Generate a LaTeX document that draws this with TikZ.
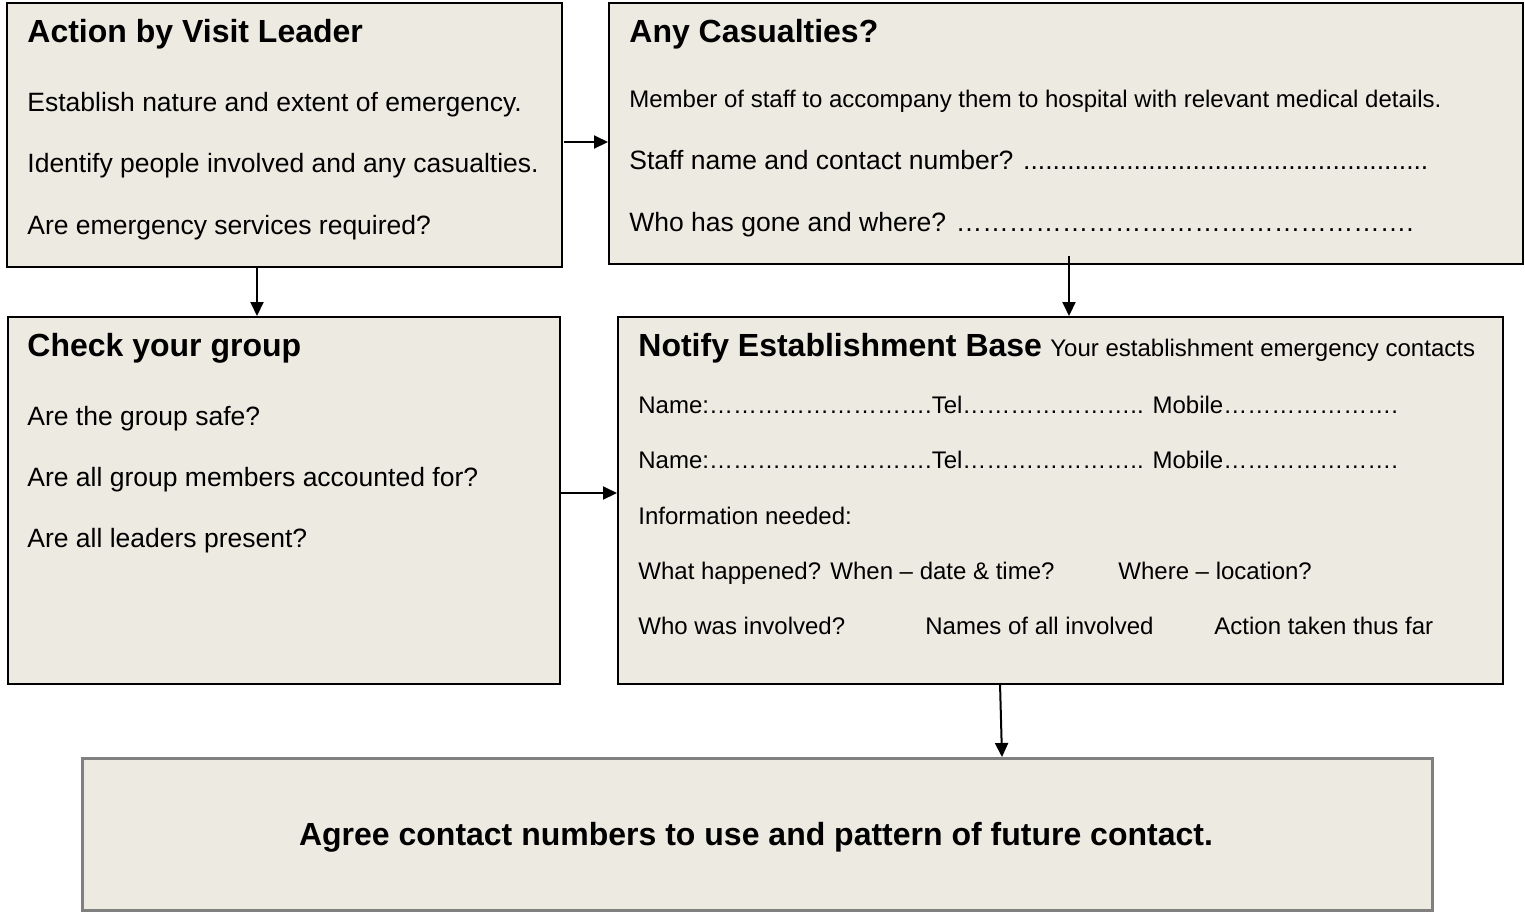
\documentclass[tikz,border=0pt]{standalone}
\usepackage{fontspec}
\setmainfont{Liberation Sans}
\usetikzlibrary{arrows.meta}
\definecolor{boxfill}{RGB}{237,234,225}
\definecolor{boxgray}{RGB}{128,128,128}
\tikzset{
  panel/.style={draw=black, line width=1pt, fill=boxfill, anchor=north west, inner sep=0pt},
  finalbox/.style={draw=boxgray, line width=1.6pt, fill=boxfill, anchor=north west, inner sep=0pt},
  ttl/.style={anchor=base west, inner sep=0pt, font=\fontsize{16}{19}\selectfont\bfseries},
  txa/.style={anchor=base west, inner sep=0pt, font=\fontsize{13.25}{16}\selectfont},
  txb/.style={anchor=base west, inner sep=0pt, font=\fontsize{12}{14}\selectfont},
  arr/.style={draw=black, line width=1pt, -{Triangle[length=7pt,width=6.5pt]}}
}
\begin{document}
\begin{tikzpicture}[x=0.5pt,y=-0.5pt]
\useasboundingbox (0,0) rectangle (1525,912);
% boxes
\node[panel, minimum width=277.5pt, minimum height=132pt] (b1) at (6,2) {};
\node[panel, minimum width=457pt, minimum height=130.5pt] (b2) at (608,2) {};
\node[panel, minimum width=276pt, minimum height=183.5pt] (b3) at (7,316) {};
\node[panel, minimum width=442.5pt, minimum height=183.5pt] (b4) at (617,316) {};
\node[finalbox, minimum width=675pt, minimum height=76pt] (b5) at (81,757) {};
% box 1
\node[ttl] (t1) at (27,42) {Action by Visit Leader};
\node[txa] (t1a) at (27,111) {Establish nature and extent of emergency.};
\node[txa] (t1b) at (27,172.5) {Identify people involved and any casualties.};
\node[txa] (t1c) at (27,234) {Are emergency services required?};
% box 2
\node[ttl] (t2) at (629,42.5) {Any Casualties?};
\node[txb] (t2a) at (629,107) {Member of staff to accompany them to hospital with relevant medical details.};
\node[txa] (t2b) at (629,169) {Staff name and contact number? \foreach \i in {1,...,55}{.}};
\node[txa] (t2c) at (629,231) {Who has gone and where? \foreach \i in {1,...,17}{…}.};
% box 3
\node[ttl] (t3) at (27,356) {Check your group};
\node[txa] (t3a) at (27,425) {Are the group safe?};
\node[txa] (t3b) at (27,486) {Are all group members accounted for?};
\node[txa] (t3c) at (27,547) {Are all leaders present?};
% box 4
\node[ttl] (t4) at (638,356) {Notify Establishment Base};
\node[txb] (t4s) at (1050,356) {Your establishment emergency contacts};
\node[txb] (t4a) at (638,413) {Name:……………………….Tel………………….. Mobile………………….};
\node[txb] (t4b) at (638,468) {Name:……………………….Tel………………….. Mobile………………….};
\node[txb] (t4c) at (638,524) {Information needed:};
\node[txb] (t4d) at (638,579) {What happened?};
\node[txb] (t4e) at (830,579) {When – date \& time?};
\node[txb] (t4f) at (1118,579) {Where – location?};
\node[txb] (t4g) at (638,634) {Who was involved?};
\node[txb] (t4h) at (925,634) {Names of all involved};
\node[txb] (t4i) at (1214,634) {Action taken thus far};
% box 5
\node[anchor=base, inner sep=0pt, font=\fontsize{16}{19}\selectfont\bfseries] (t5) at (756,845) {Agree contact numbers to use and pattern of future contact.};
% connectors
\coordinate (c1) at (564,142);
\coordinate (c2) at (257,266);
\coordinate (c3) at (1069,256);
\coordinate (c4) at (561,493);
\coordinate (c5) at (1000,683);
\coordinate (c5e) at (1002,756);
\draw[arr] (c1) -- (c1 -| b2.west);
\draw[arr] (c2) -- (c2 |- b3.north);
\draw[arr] (c3) -- (c3 |- b4.north);
\draw[arr] (c4) -- (c4 -| b4.west);
\draw[arr] (c5) -- (c5e |- b5.north);
\end{tikzpicture}
\end{document}
